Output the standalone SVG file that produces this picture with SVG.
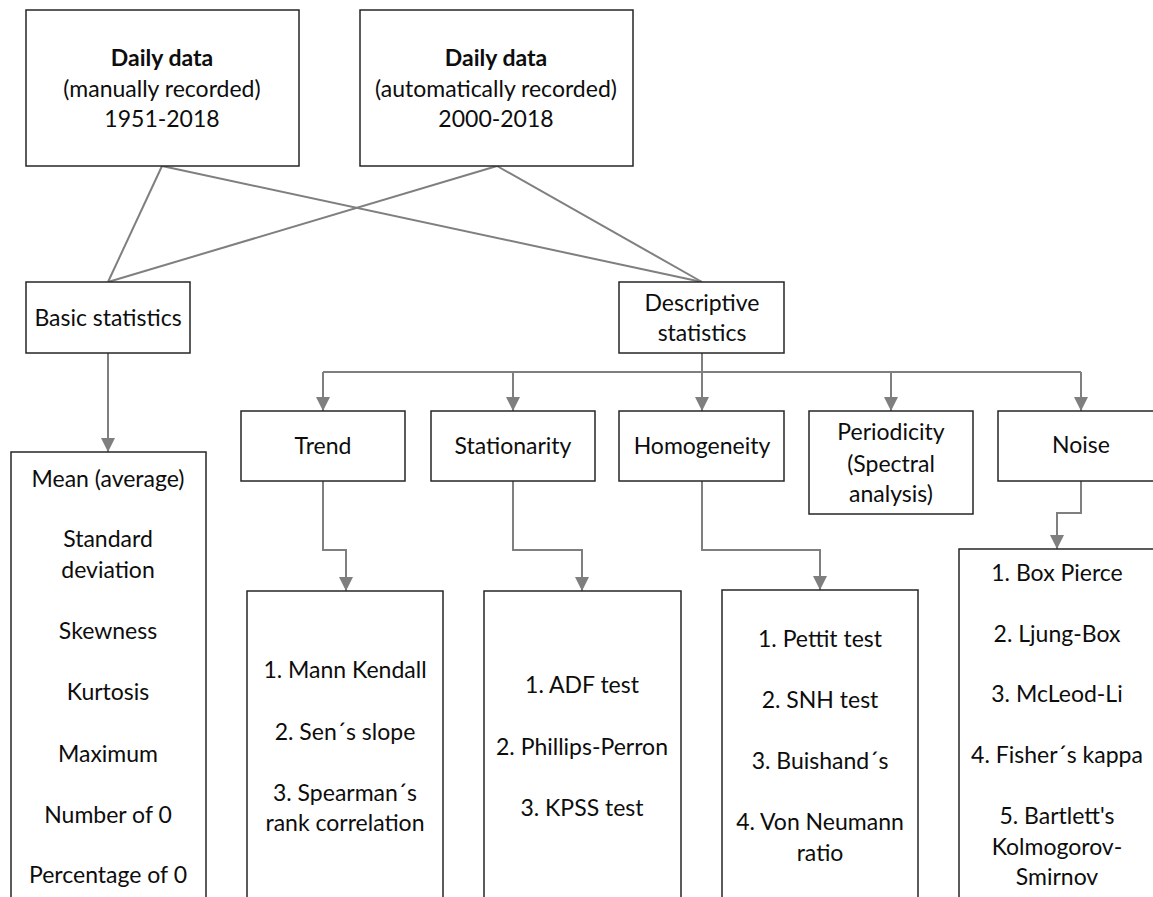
<svg xmlns="http://www.w3.org/2000/svg" width="1153" height="897" viewBox="0 0 1153 897">
<defs>
<style>
.box{fill:#fff;stroke:#262626;stroke-width:1.5}
.t{font-family:Lato,"Open Sans",sans-serif;font-size:23px;fill:#0d0d0d;text-anchor:middle}
.b{font-weight:bold}
.c{fill:none;stroke:#7f7f7f;stroke-width:2}
</style>
<marker id="ah" markerUnits="userSpaceOnUse" markerWidth="14" markerHeight="14" viewBox="0 0 14 14" refX="14" refY="7" orient="auto">
<path d="M0,0 L14,7 L0,14 Z" fill="#7f7f7f"/>
</marker>
</defs>
<rect width="1153" height="897" fill="#fff"/>
<g id="connectors">
<path class="c" d="M162,166 L108,282"/>
<path class="c" d="M162,166 L702,282"/>
<path class="c" d="M497,166 L108,282"/>
<path class="c" d="M497,166 L702,282"/>
<path class="c" d="M108,353 V452" marker-end="url(#ah)"/>
<path class="c" d="M702,353 V411" marker-end="url(#ah)"/>
<path class="c" d="M323,372 H1081"/>
<path class="c" d="M323,372 V411" marker-end="url(#ah)"/>
<path class="c" d="M513,372 V411" marker-end="url(#ah)"/>
<path class="c" d="M891,372 V411" marker-end="url(#ah)"/>
<path class="c" d="M1081,372 V411" marker-end="url(#ah)"/>
<path class="c" d="M323,481 V550 H346 V591" marker-end="url(#ah)"/>
<path class="c" d="M513,481 V550 H582 V591" marker-end="url(#ah)"/>
<path class="c" d="M702,481 V550 H820 V590" marker-end="url(#ah)"/>
<path class="c" d="M1081,481 V513 H1057 V549" marker-end="url(#ah)"/>
</g>
<g id="daily-manual">
<rect class="box" x="26" y="10" width="273" height="156"/>
<text class="t b" x="162" y="66">Daily data</text>
<text class="t" x="162" y="97">(manually recorded)</text>
<text class="t" x="162" y="127">1951-2018</text>
</g>
<g id="daily-auto">
<rect class="box" x="360" y="10" width="273" height="156"/>
<text class="t b" x="496" y="66">Daily data</text>
<text class="t" x="496" y="97">(automatically recorded)</text>
<text class="t" x="496" y="127">2000-2018</text>
</g>
<g id="basic">
<rect class="box" x="26" y="282" width="164" height="71"/>
<text class="t" x="108" y="326">Basic statistics</text>
</g>
<g id="descriptive">
<rect class="box" x="619" y="282" width="165" height="71"/>
<text class="t" x="702" y="311">Descriptive</text>
<text class="t" x="702" y="341">statistics</text>
</g>
<g id="trend">
<rect class="box" x="241" y="411" width="164" height="70"/>
<text class="t" x="323" y="454">Trend</text>
</g>
<g id="stationarity">
<rect class="box" x="431" y="411" width="164" height="70"/>
<text class="t" x="513" y="454">Stationarity</text>
</g>
<g id="homogeneity">
<rect class="box" x="619" y="411" width="165" height="70"/>
<text class="t" x="702" y="454">Homogeneity</text>
</g>
<g id="periodicity">
<rect class="box" x="809" y="411" width="164" height="103"/>
<text class="t" x="891" y="440">Periodicity</text>
<text class="t" x="891" y="472">(Spectral</text>
<text class="t" x="891" y="502">analysis)</text>
</g>
<g id="noise">
<rect class="box" x="998" y="411" width="166" height="70"/>
<text class="t" x="1081" y="453">Noise</text>
</g>
<g id="basic-list">
<rect class="box" x="11" y="452" width="195" height="460"/>
<text class="t" x="108" y="487">Mean (average)</text>
<text class="t" x="108" y="547">Standard</text>
<text class="t" x="108" y="578">deviation</text>
<text class="t" x="108" y="639">Skewness</text>
<text class="t" x="108" y="700">Kurtosis</text>
<text class="t" x="108" y="762">Maximum</text>
<text class="t" x="108" y="823">Number of 0</text>
<text class="t" x="108" y="883">Percentage of 0</text>
</g>
<g id="trend-list">
<rect class="box" x="247" y="591" width="196" height="320"/>
<text class="t" x="345" y="678">1. Mann Kendall</text>
<text class="t" x="345" y="740">2. Sen´s slope</text>
<text class="t" x="345" y="801">3. Spearman´s</text>
<text class="t" x="345" y="831">rank correlation</text>
</g>
<g id="stationarity-list">
<rect class="box" x="484" y="591" width="197" height="320"/>
<text class="t" x="582" y="693">1. ADF test</text>
<text class="t" x="582" y="755">2. Phillips-Perron</text>
<text class="t" x="582" y="816">3. KPSS test</text>
</g>
<g id="homogeneity-list">
<rect class="box" x="722" y="590" width="196" height="320"/>
<text class="t" x="820" y="647">1. Pettit test</text>
<text class="t" x="820" y="708">2. SNH test</text>
<text class="t" x="820" y="769">3. Buishand´s</text>
<text class="t" x="820" y="830">4. Von Neumann</text>
<text class="t" x="820" y="861">ratio</text>
</g>
<g id="noise-list">
<rect class="box" x="959" y="549" width="196" height="360"/>
<text class="t" x="1057" y="581">1. Box Pierce</text>
<text class="t" x="1057" y="642">2. Ljung-Box</text>
<text class="t" x="1057" y="702">3. McLeod-Li</text>
<text class="t" x="1057" y="763">4. Fisher´s kappa</text>
<text class="t" x="1057" y="824">5. Bartlett's</text>
<text class="t" x="1057" y="855">Kolmogorov-</text>
<text class="t" x="1057" y="885">Smirnov</text>
</g>
</svg>
